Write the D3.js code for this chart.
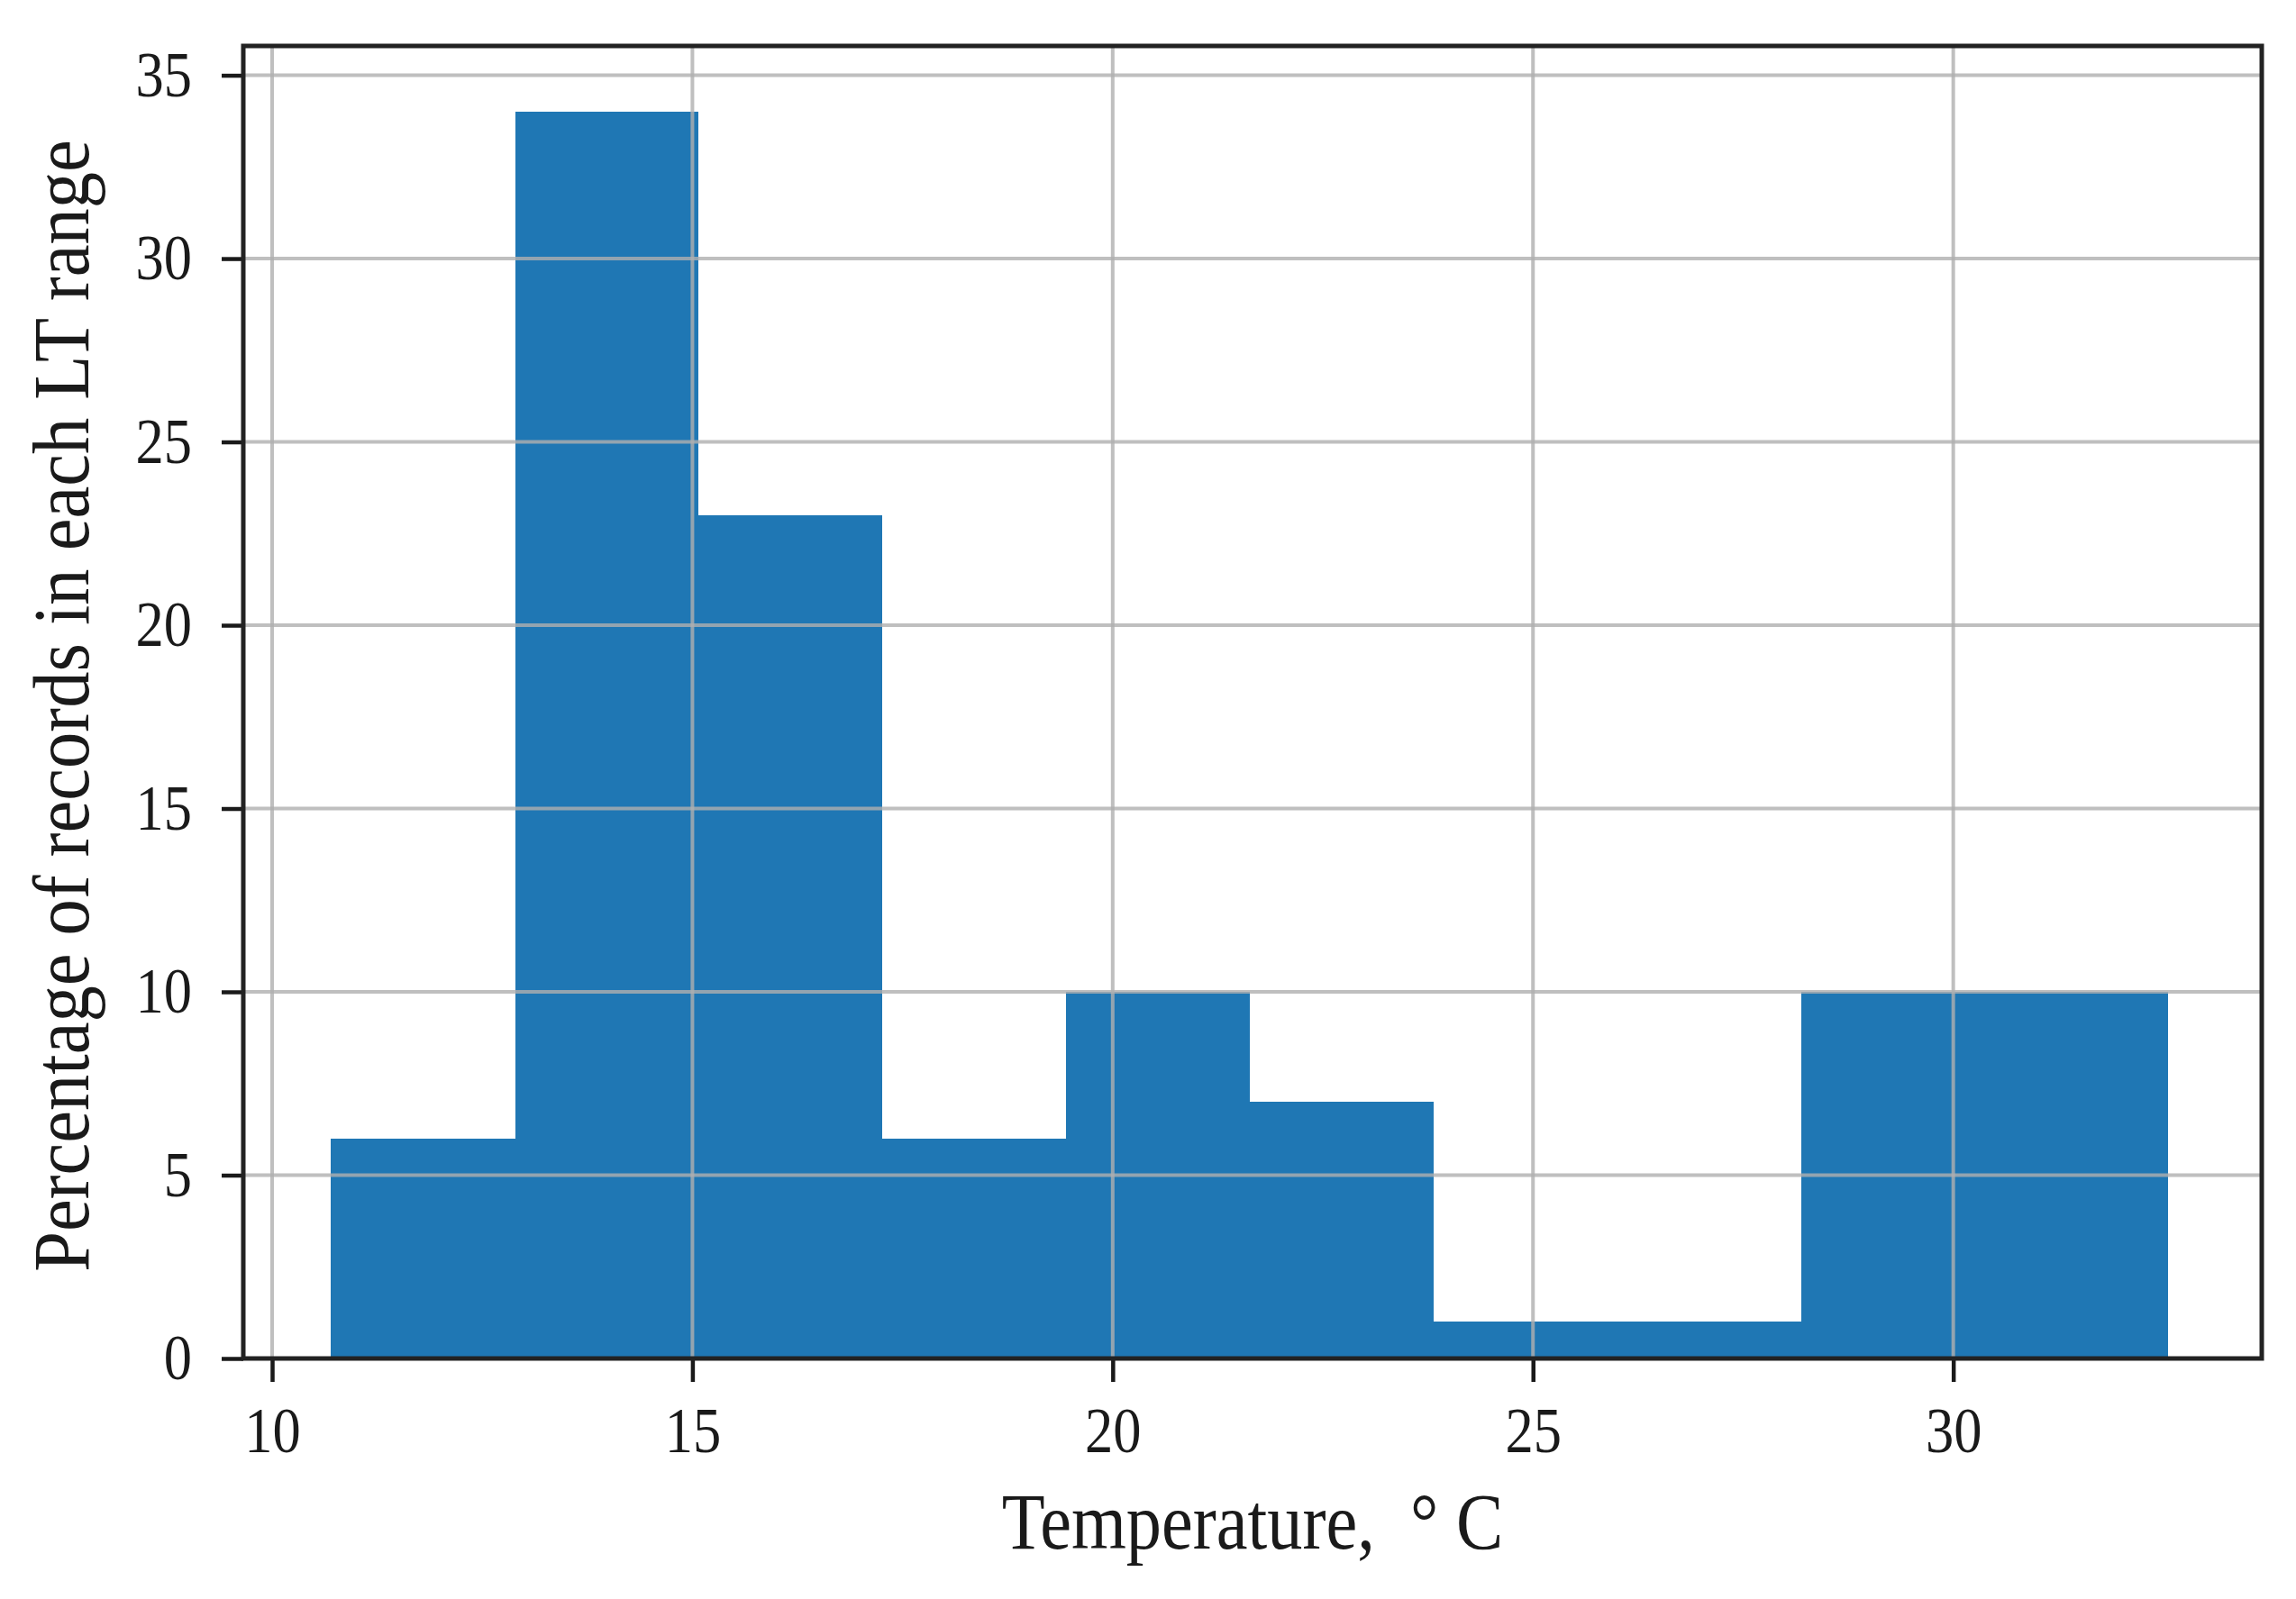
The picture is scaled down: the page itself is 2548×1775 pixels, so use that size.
<!DOCTYPE html>
<html>
<head>
<meta charset="utf-8">
<script src="https://cdn.jsdelivr.net/npm/d3@7"></script>
<style>
  body { margin: 0; background: #fff; }
  text { font-family: "Liberation Serif", "DejaVu Serif", serif; fill: #1a1a1a; }
</style>
</head>
<body>
<div id="hist"></div>
<script>
// histogram bins (deg C) and bar heights (%)
let binEdges = [10.70, 12.89, 15.07, 17.26, 19.44, 21.63, 23.82, 26.00, 28.19, 30.37, 32.56]
let percents = [6, 34, 23, 6, 10, 7, 1, 1, 10, 10]
let xTicks = [10, 15, 20, 25, 30]
let yTicks = [0, 5, 10, 15, 20, 25, 30, 35]
let xLabel = 'Temperature, '
let yLabel = 'Percentage of records in each LT range'

let width = 2548
let height = 1775
let margin = { top: 51, right: 38, bottom: 267, left: 270 }
let plotWidth = width - margin.left - margin.right
let plotHeight = height - margin.top - margin.bottom
let tickSqueeze = 0.88 // the fonts in the picture are a bit narrow
let titleSqueeze = 0.89

let bins = percents.map((p, i) => ({ x0: binEdges[i], x1: binEdges[i + 1], value: p }))

let svg = d3.select('#hist')
  .append('svg')
    .attr('width', width)
    .attr('height', height)

let plot = svg.append('g')
    .attr('transform', `translate(${margin.left}, ${margin.top})`)

let xScale = d3.scaleLinear().domain([9.657, 33.67]).range([0, plotWidth])
let yScale = d3.scaleLinear().domain([0, 35.8]).range([plotHeight, 0])

// bars
plot.selectAll('.bar')
  .data(bins)
  .enter()
  .append('rect')
    .attr('class', 'bar')
    .attr('x', d => xScale(d.x0))
    .attr('width', d => xScale(d.x1) - xScale(d.x0))
    .attr('y', d => yScale(d.value))
    .attr('height', d => yScale(0) - yScale(d.value))
    .attr('fill', '#1f77b4')
    .attr('shape-rendering', 'crispEdges')

// grid, drawn over the bars like in the picture
plot.append('g')
  .selectAll('line')
  .data(xTicks)
  .enter()
  .append('line')
    .attr('x1', d => xScale(d)).attr('x2', d => xScale(d))
    .attr('y1', 0).attr('y2', plotHeight)
    .attr('stroke', '#b0b0b0').attr('stroke-width', 4).attr('opacity', 0.8)

plot.append('g')
  .selectAll('line')
  .data(yTicks)
  .enter()
  .append('line')
    .attr('x1', 0).attr('x2', plotWidth)
    .attr('y1', d => yScale(d)).attr('y2', d => yScale(d))
    .attr('stroke', '#b0b0b0').attr('stroke-width', 4).attr('opacity', 0.8)

// x axis
let xAxis = plot.append('g')
  .attr('transform', `translate(0, ${plotHeight})`)
  .call(d3.axisBottom(xScale).tickValues(xTicks).tickFormat(d3.format('d')).tickSize(26).tickPadding(28).tickSizeOuter(0))
xAxis.select('.domain').remove()
xAxis.selectAll('line').attr('stroke', '#1a1a1a').attr('stroke-width', 4.5)
xAxis.selectAll('text')
  .attr('font-size', 71)
  .attr('font-family', '"Liberation Serif", serif')
  .attr('transform', `scale(${tickSqueeze}, 1)`)

// y axis
let yAxis = plot.append('g')
  .call(d3.axisLeft(yScale).tickValues(yTicks).tickSize(24).tickPadding(0).tickSizeOuter(0))
yAxis.select('.domain').remove()
yAxis.selectAll('line').attr('stroke', '#1a1a1a').attr('stroke-width', 4.5)
yAxis.selectAll('text')
  .attr('font-size', 71)
  .attr('font-family', '"Liberation Serif", serif')
  .attr('x', -57 / tickSqueeze)
  .attr('transform', `scale(${tickSqueeze}, 1)`)

// frame
plot.append('rect')
  .attr('width', plotWidth)
  .attr('height', plotHeight)
  .attr('fill', 'none')
  .attr('stroke', '#222')
  .attr('stroke-width', 5)

// axis titles
let xTitle = svg.append('text')
  .attr('transform', `translate(${margin.left + plotWidth / 2}, 1719) scale(${titleSqueeze - 0.01}, 1)`)
  .attr('text-anchor', 'middle')
  .attr('font-size', 89)
xTitle.append('tspan').text(xLabel + '\u00a0')
xTitle.append('tspan').text('\u00b0')
xTitle.append('tspan').text('\u00a0C')

svg.append('text')
  .attr('transform', `translate(98, ${margin.top + plotHeight / 2 + 4}) rotate(-90) scale(${titleSqueeze + 0.015}, 1)`)
  .attr('text-anchor', 'middle')
  .attr('font-size', 89)
  .text(yLabel)
</script>
</body>
</html>
